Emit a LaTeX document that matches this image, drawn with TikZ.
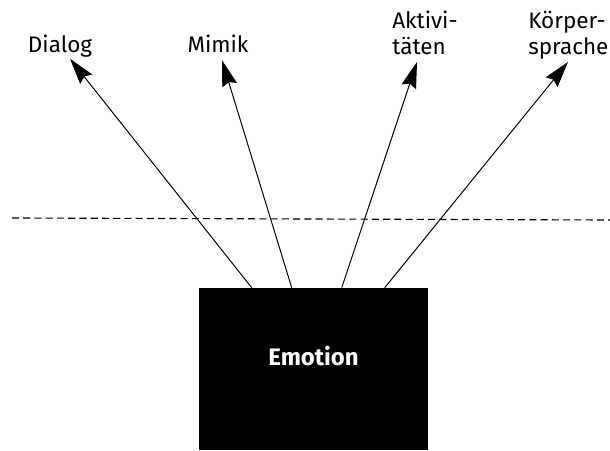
\documentclass[tikz,border=0pt]{standalone}
\usepackage{fontspec}
\setmainfont{Fira Sans}
\usetikzlibrary{arrows.meta}

\begin{document}
\begin{tikzpicture}[
  lbl/.style={draw=none, inner sep=0pt, font=\fontsize{16}{18.5}\selectfont},
  pfeil/.style={line width=0.7pt, -{Stealth[length=6.5mm,width=3.8mm,inset=0.8mm]}}
]
\useasboundingbox (0,0) rectangle (15.25,11.25);

\node [fill=black, text=white, minimum width=5.725cm, minimum height=4.05cm, inner sep=0pt,
  text height=4mm, text depth=6mm, font=\fontsize{17}{20}\selectfont\bfseries] (emotion) at (7.8375,2.025) {Emotion};

\node [lbl, anchor=base] (dialog) at (1.5,9.925) {Dialog};
\node [lbl, anchor=base] (mimik) at (5.45,9.925) {Mimik};
\node [lbl, anchor=south west, align=left] (aktiv) at (9.8,9.875) {Aktivi-\\täten};
\node [lbl, anchor=south west, align=left] (koerper) at (13.2,9.76) {Körper-\\sprache};

\draw [pfeil] ([xshift=1.325cm]emotion.north west) -- ([xshift=0.25cm,yshift=-0.5pt]dialog.south);
\draw [pfeil] ([xshift=2.325cm]emotion.north west) -- ([xshift=0.1cm,yshift=-0.175cm]mimik.south);
\draw [pfeil] ([xshift=3.575cm]emotion.north west) -- ([xshift=0.625cm,yshift=-0.175cm]aktiv.south west);
\draw [pfeil] ([xshift=4.65cm]emotion.north west) -- ([xshift=1cm,yshift=-0.06cm]koerper.south west);

\draw [dash pattern=on 5pt off 3pt, line width=0.8pt] (0.3,5.8) -- (15.25,5.75); % Trennlinie

\end{tikzpicture}
\end{document}
